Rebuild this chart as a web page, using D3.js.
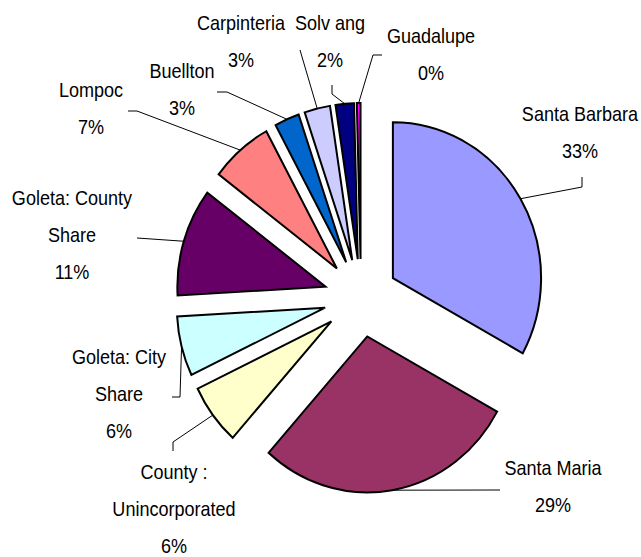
<!DOCTYPE html>
<html>
<head>
<meta charset="utf-8">
<script src="https://cdn.jsdelivr.net/npm/d3@7"></script>
<style>
  html, body { margin: 0; padding: 0; background: #fff; }
  svg { display: block; }
  text { font-family: "Liberation Sans", Arial, sans-serif; fill: #000; }
</style>
</head>
<body>
<svg id="chart" width="641" height="557"></svg>
<script>
// ---- data ----
const categories = ["Santa Barbara", "Santa Maria", "County: Unincorporated", "Goleta: City Share",
  "Goleta: County Share", "Lompoc", "Buellton", "Carpinteria", "Solvang", "Guadalupe"];
const shares = [33.0, 28.6, 6.3, 6.2, 11.2, 6.8, 2.7, 2.8, 2.0, 0.4];
const labelLines = [["Santa Barbara"], ["Santa Maria"], ["County :", "Unincorporated"],
  ["Goleta: City", "Share"], ["Goleta: County", "Share"], ["Lompoc"], ["Buellton"],
  ["Carpinteria"], ["Solv ang"], ["Guadalupe"]];
const colors = ["#9999FF", "#993366", "#FFFFCC", "#CCFFFF", "#660066", "#FF8080",
  "#0066CC", "#CCCCFF", "#000080", "#FF00FF"];

// ---- layout (positions, not data) ----
const cx = 361, cy = 298, radius = 156, explode = 39, sx = 0.95;
const textScale = 0.88, fontSize = 20.5, lineH = 37;
const labelPos = [[580, 121], [553, 475], [174, 479], [119, 364], [72, 205],
  [91, 97], [182, 78], [241, 30], [330, 30], [431, 43]];
const leaderPts = [
  [[582, 187], [582, 177]],
  [[500, 490]],
  [[173, 442], [173, 451]],
  [[180, 397], [172, 397]],
  [[137, 238]],
  [[137, 111], [128, 111]],
  [[227, 92], [217, 92]],
  [[300, 50]],
  [[332, 94], [332, 85]],
  [[373, 55], [382, 55]]
];

const svg = d3.select("#chart");
const data = categories.map((c, i) => ({ name: c, value: shares[i], i }));
const pie = d3.pie().sort(null).value(d => d.value).startAngle(0).endAngle(2 * Math.PI);
const arcs = pie(data);
const arc = d3.arc().innerRadius(0).outerRadius(radius);

const g = svg.append("g").attr("transform", `translate(${cx},${cy}) scale(${sx},1)`);
g.selectAll("path").data(arcs).join("path")
  .attr("d", arc)
  .attr("transform", d => {
    const m = (d.startAngle + d.endAngle) / 2;
    return `translate(${Math.sin(m) * explode},${-Math.cos(m) * explode})`;
  })
  .attr("fill", d => colors[d.data.i])
  .attr("stroke", "#000")
  .attr("stroke-width", 2)
  .attr("vector-effect", "non-scaling-stroke")
  .attr("stroke-linejoin", "miter");

// leader lines
const line = d3.line();
svg.append("g").selectAll("path").data(arcs).join("path")
  .attr("d", d => {
    const m = (d.startAngle + d.endAngle) / 2;
    const rr = radius + explode;
    const start = [cx + sx * rr * Math.sin(m), cy - rr * Math.cos(m)];
    return line([start, ...leaderPts[d.data.i]]);
  })
  .attr("fill", "none")
  .attr("stroke", "#000")
  .attr("stroke-width", 1);

// labels
const lab = svg.append("g").selectAll("g").data(arcs).join("g");
lab.each(function (d) {
  const i = d.data.i;
  const lines = labelLines[i].concat([Math.round(shares[i]) + "%"]);
  const [x, y] = labelPos[i];
  const sel = d3.select(this);
  lines.forEach((t, k) => {
    sel.append("text")
      .attr("transform", `translate(${x},${y + k * lineH}) scale(${textScale},1)`)
      .attr("text-anchor", "middle")
      .attr("font-size", fontSize)
      .text(t);
  });
});
</script>
</body>
</html>
